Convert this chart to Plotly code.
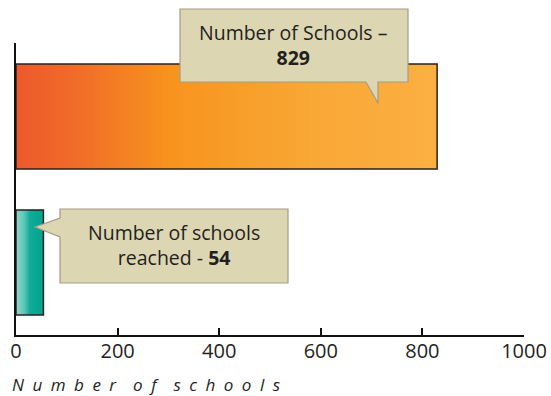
import plotly.graph_objects as go

categories = ["Number of schools reached", "Number of Schools"]
values = [54, 829]
positions = [0, 1]
callout_texts = ["Number of schools<br>reached - <b>54</b>", "Number of Schools –<br><b>829</b>"]
x_ticks = [0, 200, 400, 600, 800, 1000]
axis_title = "Number of schools"

gradients = [
    [[0, "#93D8CC"], [0.3, "#5CC6B6"], [0.5, "#12AC98"], [1, "#00A28E"]],
    [[0, "#EC5A2C"], [0.12, "#F0682A"], [0.37, "#F7941E"], [0.7, "#F9A735"], [1, "#FBB042"]],
]

# pixel layout helpers
L, R, T, B = 16, 524, 43, 335
W, H = 551, 396
def px(x):
    return (x - L) / (R - L)
def py(y):
    return (B - y) / (B - T)

half = 0.36
fig = go.Figure()
for cat, v, p, g in zip(categories, values, positions, gradients):
    fig.add_trace(go.Scatter(
        x=[0, v, v, 0, 0], y=[p - half, p - half, p + half, p + half, p - half],
        mode="lines", fill="toself", name=cat,
        fillgradient=dict(type="horizontal", colorscale=g),
        line=dict(color="#2B2118", width=1.5), hoverinfo="skip", showlegend=False,
    ))

def path(points):
    s = "M " + " L ".join(f"{px(a):.5f},{py(b):.5f}" for a, b in points) + " Z"
    return s

box1 = [(180, 9), (408, 9), (408, 82), (378, 82), (378, 103), (366, 82), (180, 82)]
box2 = [(60, 209), (288, 209), (288, 283), (60, 283), (60, 237), (35, 227), (60, 218)]
for bx in (box1, box2):
    fig.add_shape(type="path", path=path(bx), xref="paper", yref="paper",
                  fillcolor="#DCD6B2", line=dict(color="#A59C88", width=1.2), layer="above")

fig.add_annotation(x=px(293), y=py(45), xref="paper", yref="paper", text=callout_texts[1],
                   showarrow=False, font=dict(family="Open Sans", size=19.5, color="#231F20"),
                   xanchor="center", yanchor="middle")
fig.add_annotation(x=px(174), y=py(245), xref="paper", yref="paper", text=callout_texts[0],
                   showarrow=False, font=dict(family="Open Sans", size=19.5, color="#231F20"),
                   xanchor="center", yanchor="middle")

spaced = "\u2003".join("\u2002".join(list(w)) for w in axis_title.split(" "))
fig.add_annotation(x=px(10), y=py(384), xref="paper", yref="paper", text=f"<i>{spaced}</i>",
                   showarrow=False, font=dict(family="Open Sans", size=17, color="#231F20"),
                   xanchor="left", yanchor="middle")

fig.update_layout(
    width=W, height=H, margin=dict(l=L, r=W - R, t=T, b=H - B, pad=0, autoexpand=False),
    plot_bgcolor="white", paper_bgcolor="white",
    xaxis=dict(range=[0, 1000], tickvals=x_ticks, ticks="inside", ticklen=7, tickwidth=2,
               tickcolor="#111", showline=True, linecolor="#111", linewidth=2,
               showgrid=False, zeroline=False, ticklabelstandoff=-3,
               tickfont=dict(family="Open Sans", size=20, color="#231F20")),
    yaxis=dict(range=[-0.497, 1.503], showline=True, linecolor="#111", linewidth=2,
               showticklabels=False, ticks="", showgrid=False, zeroline=False),
)
fig.write_html("out.html")
